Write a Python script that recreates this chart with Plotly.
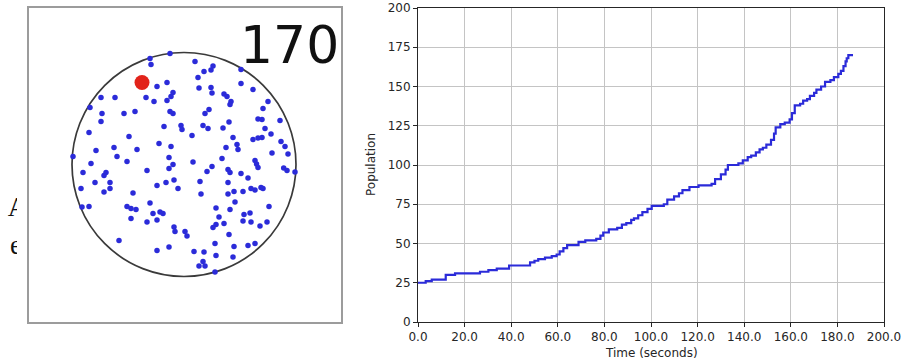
import plotly.graph_objects as go

# ---------------- Population history (right panel) ----------------
# event times (s) and population right after each birth event
time_s = [0, 3.3, 5.9, 11.9, 15.9, 26.6, 30.2, 33.8, 39.1, 48.1, 50.0, 51.6, 54.5,
          57.4, 59.5, 60.8, 62.4, 64.0, 68.9, 71.8, 76.5, 78.3, 79.5, 81.9, 85.5,
          87.5, 89.4, 91.5, 92.7, 94.5, 96.3, 98.5, 100.3, 105.5, 107.0, 109.9,
          112.0, 113.5, 116.5, 120.4, 126.0, 127.5, 130.0, 132.0, 133.0, 137.5,
          139.4, 141.5, 143.0, 145.0, 146.6, 148.0, 149.5, 151.5, 152.8, 153.5,
          155.5, 157.4, 159.5, 160.5, 161.7, 164.0, 165.3, 167.0, 168.2, 170.0,
          171.0, 173.0, 174.7, 177.0, 178.5, 180.4, 181.5, 182.6, 183.5, 184.0,
          184.7, 186.7]
population = [25, 26, 27, 30, 31, 32, 33, 34, 36, 38, 39, 40, 41,
              42, 43, 45, 47, 49, 51, 52, 53, 55, 57, 59, 60,
              62, 63, 65, 66, 68, 70, 72, 74, 75, 78, 80,
              82, 84, 86, 87, 88, 91, 94, 97, 100, 101,
              103, 105, 106, 108, 110, 111, 113, 116, 120, 124,
              126, 127, 129, 133, 138, 139, 141, 142, 144, 146,
              148, 150, 153, 154, 156, 158, 160, 163, 166, 168,
              170, 170]

x_ticks = [0, 20, 40, 60, 80, 100, 120, 140, 160, 180, 200]
y_ticks = [0, 25, 50, 75, 100, 125, 150, 175, 200]

# ---------------- Dish snapshot (left panel) ----------------
dish_radius = 112
# cell positions relative to the dish centre (y up)
cell_x = [-14, -34, -33, -27, -17, -83, -69, -38, -30, -17, -13, -11, -94, -82, -60,
          -49, -14, -11, -83, -20, -3, -2, -95, -55, -25, -13, -88, -70, -47, -67,
          -111, -57, -93, -15, -11,
          11, 20, 27, 29, 14, 15, 27, 28, 40, 43, 47, 46, 57, 57, 69, 84, 79, 25,
          21, 74, 78, 96, 19, 24, 45, 39, 81, 87, 8, 49, 69, 74, 78, 97, 101, 42,
          53, 54, 88, 104, 38, 28, 9, 71, 72.5, 74,
          -101, -80, -78, -37, -15, -89, -74, -74, -103, -80, -27, -18, -10, -6,
          -51, -102, -95, -57, -53, -48, -34, -31, -24, -21, -53, -37, -27, -10,
          -9, -65, -27, -15,
          23, 44, 46, 57, 99.7, 103, 111, 64, 16, 44, 67, 71, 77, 79, 59, 50, 44,
          17, 51, 85, 32, 46, 60, 66, 35, 59, 67, 83, 76, 40, 32, 29, 1, 3, 45, 31,
          50, 64, 71, 10, 20, 32, 49, 19, 15, 21, 31]
cell_y = [111, 106, 100, 78, 82, 67, 67, 67, 63, 64, 68, 72, 57, 51, 51,
          53, 53, 51, 43, 38, 39, 35, 32, 28, 21, 18, 14, 17, 15, 8,
          8, 3, 1, 7, 0,
          103, 93, 94.5, 98.5, 87, 76.5, 77, 71.5, 70.5, 68, 63, 60, 81, 95, 75, 63,
          56, 55, 51, 45.5, 45, 44, 39, 36, 42.5, 36.5, 36, 30.5, 29, 27, 25, 26.5,
          27, 23, 18, 17, 20, 15, 11.5, 10.5, 6, -2, 2.5, 4, 0.5, -3,
          -8, -11, -8, -6, -4, -18, -18, -24, -24, -27.5, -21, -18, -15.5, -24,
          -28.5, -42.5, -42, -42, -44, -45, -38.5, -49, -47.5, -49, -54, -57.5,
          -55.5, -62.5, -67, -76, -86, -82.5,
          -7, -5, -8, -9, -3.5, -6, -7.5, -13.5, -17, -18, -24, -25.5, -23, -24,
          -27, -27, -29.5, -29.5, -37.5, -42, -43.5, -45, -50, -48.5, -52.5, -56.5,
          -57.5, -57.5, -61.5, -59, -60, -63, -67, -71.5, -70, -79, -82, -81, -79,
          -87, -87.5, -91, -92.5, -97, -101.5, -101.5, -107.5]
tracked_x = [-42]
tracked_y = [82]

W, H = 903, 362
BLUE = "#2b2bd9"
AXIS_FONT = dict(family="DejaVu Sans", size=12, color="#262626")

fig = go.Figure()

# cells in the dish
fig.add_trace(go.Scatter(
    x=cell_x, y=cell_y, mode="markers", xaxis="x", yaxis="y",
    marker=dict(size=5.5, color=BLUE, line=dict(width=0)),
    hoverinfo="skip", showlegend=False))
# highlighted cell
fig.add_trace(go.Scatter(
    x=tracked_x, y=tracked_y, mode="markers", xaxis="x", yaxis="y",
    marker=dict(size=15, color="#e2231a", line=dict(width=0)),
    hoverinfo="skip", showlegend=False))

# population curve
fig.add_trace(go.Scatter(
    x=time_s, y=population, mode="lines", line_shape="hv", xaxis="x2", yaxis="y2",
    line=dict(color=BLUE, width=2.2), hoverinfo="skip", showlegend=False))

# fragments of caption text peeking out at the far left
fig.add_trace(go.Scatter(
    x=[17.5, 16], y=[209, 247], text=["A", "e"], mode="text", xaxis="x3", yaxis="y3",
    textfont=dict(family="Liberation Serif", size=27, color="#111111"),
    cliponaxis=True, hoverinfo="skip", showlegend=False))

left_dom_x = [29 / W, 341 / W]
right_dom_x = [418 / W, 884 / W]
dom_y = [40 / H, 354 / H]

fig.update_layout(
    width=W, height=H, margin=dict(l=0, r=0, t=0, b=0, autoexpand=False),
    paper_bgcolor="white", plot_bgcolor="white",
    xaxis=dict(domain=left_dom_x, range=[-155, 157], showgrid=False, zeroline=False,
               showticklabels=False, ticks="", showline=True, mirror=True,
               linecolor="#9c9c9c", linewidth=1.6, automargin=False),
    yaxis=dict(domain=dom_y, range=[-157.5, 156.5], showgrid=False, zeroline=False,
               showticklabels=False, ticks="", showline=True, mirror=True,
               linecolor="#9c9c9c", linewidth=1.6, automargin=False),
    xaxis2=dict(domain=right_dom_x, anchor="y2", range=[0, 200], tickvals=x_ticks,
                ticktext=[f"{v:.1f}" for v in x_ticks], showgrid=True,
                gridcolor="#c4c4c4", gridwidth=1, zeroline=False, showline=True,
                mirror=True, linecolor="#262626", linewidth=1, ticks="outside",
                ticklen=4, tickcolor="#262626", tickfont=AXIS_FONT, automargin=False),
    yaxis2=dict(domain=dom_y, anchor="x2", range=[0, 200], tickvals=y_ticks,
                showgrid=True, gridcolor="#c4c4c4", gridwidth=1, zeroline=False,
                showline=True, mirror=True, linecolor="#262626", linewidth=1,
                ticks="outside", ticklen=4, tickcolor="#262626", tickfont=AXIS_FONT,
                automargin=False),
    xaxis3=dict(domain=[0, 17 / W], range=[0, 17], visible=False, anchor="y3",
                automargin=False),
    yaxis3=dict(domain=[0, 1], range=[H, 0], visible=False, anchor="x3",
                automargin=False),
)

# axis titles of the population panel
fig.add_annotation(text="Time (seconds)", xref="paper", yref="paper",
                   x=(right_dom_x[0] + right_dom_x[1]) / 2, y=9 / H,
                   xanchor="center", yanchor="middle", showarrow=False, font=AXIS_FONT)
fig.add_annotation(text="Population", xref="paper", yref="paper",
                   x=371 / W, y=(dom_y[0] + dom_y[1]) / 2, textangle=-90,
                   xanchor="center", yanchor="middle", showarrow=False, font=AXIS_FONT)

# dish outline
fig.add_shape(type="circle", xref="x", yref="y",
              x0=-dish_radius, x1=dish_radius, y0=-dish_radius, y1=dish_radius,
              line=dict(color="#3a3a3a", width=1.7), layer="below")

# population counter
fig.add_annotation(x=54, y=120, xref="x", yref="y", text=str(population[-1]),
                   showarrow=False, xanchor="left", yanchor="middle",
                   font=dict(family="DejaVu Sans", size=52, color="#111111"))

fig.write_html("out.html")
